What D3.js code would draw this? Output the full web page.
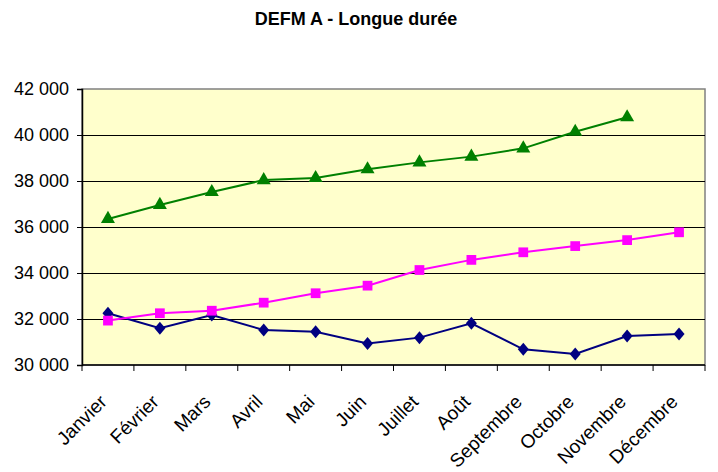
<!DOCTYPE html>
<html><head><meta charset="utf-8">
<script src="https://cdn.jsdelivr.net/npm/d3@7"></script>
<style>body{margin:0;background:#fff;} svg{display:block;}</style>
</head><body>
<svg id="chart" width="718" height="472"></svg>
<script>
const title = "DEFM A - Longue durée";
const months = ["Janvier","Février","Mars","Avril","Mai","Juin","Juillet","Août","Septembre","Octobre","Novembre","Décembre"];
const yTicks = [30000,32000,34000,36000,38000,40000,42000];
const seriesGreen = [36350,36960,37520,38040,38130,38510,38810,39060,39420,40140,40770,null];
const seriesPink  = [31930,32250,32360,32710,33120,33450,34130,34570,34900,35170,35430,35770];
const seriesNavy  = [32250,31600,32170,31520,31450,30940,31190,31810,30680,30480,31260,31350];

const svg = d3.select("#chart");
const L = 82, R = 705, T = 89, B = 365;
const x = d3.scaleBand().domain(months).range([L, R]);
const y = d3.scaleLinear().domain([30000, 42000]).range([B, T]);
const font = "'Liberation Sans', Arial, sans-serif";

svg.append("text").attr("x", 356).attr("y", 25).attr("text-anchor","middle")
  .attr("font-family", font).attr("font-weight","bold").attr("font-size", 18).text(title);

svg.append("rect").attr("x", L).attr("y", T).attr("width", R-L).attr("height", B-T)
  .attr("fill","#FFFFCC").attr("stroke","#808080").attr("stroke-width",1.5);

// gridlines
svg.append("g").selectAll("line").data(yTicks.filter(d => d>30000 && d<42000)).join("line")
  .attr("x1", L).attr("x2", R).attr("y1", d => Math.round(y(d))+0.5).attr("y2", d => Math.round(y(d))+0.5)
  .attr("stroke","#000").attr("stroke-width",1);

// y axis
const fmt = d => d3.format(",")(d).replace(/,/g, " ");
const yAxis = d3.axisLeft(y).tickValues(yTicks).tickFormat(fmt).tickSize(5).tickPadding(8);
const gy = svg.append("g").attr("transform", `translate(${L},0)`).call(yAxis);
gy.select(".domain").attr("stroke","#000").attr("stroke-width",1.5);
gy.selectAll(".tick line").attr("stroke","#000");
gy.selectAll("text").attr("font-family", font).attr("font-size", 18).attr("fill","#000");

// x axis with ticks between categories
const gx = svg.append("g").attr("transform", `translate(0,${B})`);
gx.append("line").attr("x1", L).attr("x2", R).attr("y1",0).attr("y2",0).attr("stroke","#000").attr("stroke-width",1.5);
const bounds = months.map(m => x(m)).concat([R]);
gx.selectAll("line.tk").data(bounds).join("line").attr("class","tk")
  .attr("x1", d=>d).attr("x2", d=>d).attr("y1",0).attr("y2",6).attr("stroke","#000");
gx.selectAll("text").data(months).join("text")
  .attr("transform", d => `translate(${x(d)+x.bandwidth()/2},${38}) rotate(-45)`)
  .attr("text-anchor","end").attr("font-family", font).attr("font-size", 19).attr("fill","#000")
  .text(d => d);

const diamond = { draw(ctx, size) { const w = 5.5, h = 6.5; ctx.moveTo(0,-h); ctx.lineTo(w,0); ctx.lineTo(0,h); ctx.lineTo(-w,0); ctx.closePath(); } };
const cx = i => x(months[i]) + x.bandwidth()/2;
function drawSeries(data, color, shape, size) {
  const line = d3.line().defined(d => d != null).x((d,i) => cx(i)).y(d => y(d));
  svg.append("path").datum(data).attr("d", line).attr("fill","none").attr("stroke", color).attr("stroke-width", 2);
  svg.append("g").selectAll("path").data(data.map((v,i)=>({v,i})).filter(d => d.v != null)).join("path")
    .attr("transform", d => `translate(${cx(d.i)},${y(d.v)})`)
    .attr("d", d3.symbol().type(shape).size(size)).attr("fill", color);
}
drawSeries(seriesNavy, "#000080", diamond, 80);
drawSeries(seriesPink, "#FF00FF", d3.symbolSquare, 95);
drawSeries(seriesGreen, "#008000", d3.symbolTriangle, 85);
</script>
</body></html>
